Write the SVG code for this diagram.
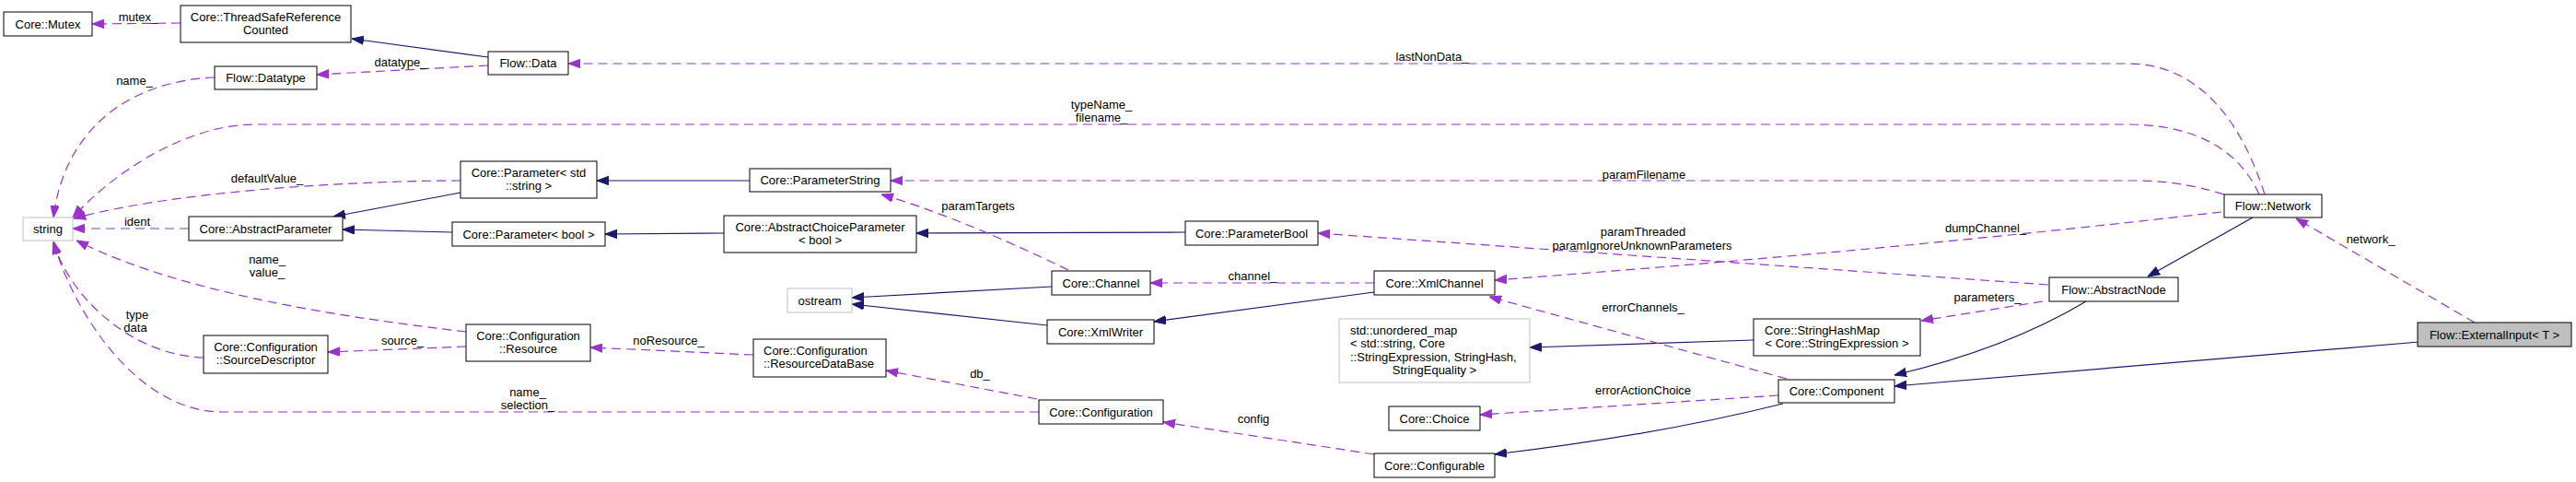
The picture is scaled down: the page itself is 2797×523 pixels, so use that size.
<svg xmlns="http://www.w3.org/2000/svg" width="2797" height="523" viewBox="0 0 2797 523">
<style>
text{font-family:"Liberation Sans",Arial,sans-serif;font-size:13px;fill:#000}
.n{fill:#fff;stroke:#000;stroke-width:1}
.g{fill:#fff;stroke:#bfbfbf;stroke-width:1}
.f{fill:#bfbfbf;stroke:#000;stroke-width:1}
.c{text-anchor:middle}
.s{fill:none;stroke:#191970;stroke-width:1.2;marker-end:url(#ab)}
.d{fill:none;stroke:#9a32cd;stroke-width:1.2;stroke-dasharray:10,6;marker-end:url(#ap)}
</style>
<defs>
<marker id="ab" viewBox="0 0 13 10" refX="13" refY="5" markerWidth="13" markerHeight="10" orient="auto" markerUnits="userSpaceOnUse"><path d="M0,0.3 L13,5 L0,9.7 z" fill="#191970" stroke="#191970" stroke-width="1"/></marker>
<marker id="ap" viewBox="0 0 13 10" refX="13" refY="5" markerWidth="13" markerHeight="10" orient="auto" markerUnits="userSpaceOnUse"><path d="M0,0.3 L13,5 L0,9.7 z" fill="#9a32cd" stroke="#9a32cd" stroke-width="1"/></marker>
</defs>
<rect width="2797" height="523" fill="#fff"/>
<g id="edges">
<path class="s" d="M530,62 L382,42"/>
<path class="s" d="M500,209 L362,235"/>
<path class="s" d="M491,252 L372,249"/>
<path class="s" d="M814,196 L648,196"/>
<path class="s" d="M786,253 L657,254"/>
<path class="s" d="M1287,252 L995,253"/>
<path class="s" d="M1142,311 L925,323"/>
<path class="s" d="M1137,353 L925,330"/>
<path class="s" d="M1492,317 L1253,349"/>
<path class="s" d="M1904,369 L1661,377"/>
<path class="s" d="M1936,438 Q1800,472 1623,493"/>
<path class="s" d="M2446,236 L2332,300"/>
<path class="s" d="M2265,327 Q2180,378 2057,407"/>
<path class="s" d="M2627,371 L2057,419"/>
<path class="d" d="M196,25 L100,26"/>
<path class="d" d="M530,71 L344,81"/>
<path class="d" d="M233,84 C140,88 70,140 58,236"/>
<path class="d" d="M2453,211 C2430,160 2380,135 2310,135 L277,135 C200,135 120,190 79,236"/>
<path class="d" d="M2459,211 C2430,120 2380,69 2310,69 L617,69"/>
<path class="d" d="M2415,211 C2380,200 2350,196 2319,196 L967,196"/>
<path class="d" d="M2412,230 Q2050,272 1623,304"/>
<path class="d" d="M2224,309 L1431,253"/>
<path class="d" d="M1160,293 Q1040,235 957,211"/>
<path class="d" d="M1492,307 L1249,307"/>
<path class="d" d="M1940,411 L1617,322"/>
<path class="d" d="M1931,429 L1607,450"/>
<path class="d" d="M2218,327 L2086,348"/>
<path class="d" d="M1492,493 L1263,458"/>
<path class="d" d="M1126,433 L962,402"/>
<path class="d" d="M1128,447 L241,447 C150,447 80,340 58,262"/>
<path class="d" d="M506,360 C380,345 200,320 83,261"/>
<path class="d" d="M221,388 C140,385 75,320 58,263"/>
<path class="d" d="M818,385 L641,377"/>
<path class="d" d="M506,376 L356,382"/>
<path class="d" d="M205,248 L79,248"/>
<path class="d" d="M500,196 C400,196 200,205 80,237"/>
<path class="d" d="M2687,350 L2493,237"/>
<text class="c" x="150" y="22.5">mutex_</text>
<text class="c" x="435" y="71.5">datatype_</text>
<text class="c" x="146" y="91.5">name_</text>
<text class="c" x="1555" y="65.5">lastNonData_</text>
<text class="c" x="1196" y="117.5">typeName_</text>
<text class="c" x="1196" y="131.5">filename_</text>
<text class="c" x="290" y="197.5">defaultValue_</text>
<text class="c" x="1785" y="193.5">paramFilename</text>
<text class="c" x="1062" y="227.5">paramTargets</text>
<text class="c" x="149" y="244.5">ident</text>
<text class="c" x="1784" y="255.5">paramThreaded</text>
<text class="c" x="1783" y="270.5">paramIgnoreUnknownParameters</text>
<text class="c" x="2156" y="251.5">dumpChannel_</text>
<text class="c" x="2574" y="263.5">network_</text>
<text class="c" x="290" y="285.5">name_</text>
<text class="c" x="290" y="299.5">value_</text>
<text class="c" x="1360" y="303.5">channel_</text>
<text class="c" x="1784" y="337.5">errorChannels_</text>
<text class="c" x="2158" y="326.5">parameters_</text>
<text class="c" x="149" y="345.5">type</text>
<text class="c" x="147" y="359.5">data</text>
<text class="c" x="437" y="373.5">source_</text>
<text class="c" x="726" y="373.5">noResource_</text>
<text class="c" x="1064" y="409.5">db_</text>
<text class="c" x="1784" y="427.5">errorActionChoice</text>
<text class="c" x="573" y="429.5">name_</text>
<text class="c" x="573" y="443.5">selection_</text>
<text class="c" x="1361" y="458.5">config</text>
</g>
<g id="n_mutex"><rect class="n" x="4" y="13" width="96" height="26"/><text class="c" x="52" y="30.5">Core::Mutex</text></g>
<g id="n_tsrc"><rect class="n" x="196" y="6" width="185" height="40"/><text class="c" x="288.5" y="22.5">Core::ThreadSafeReference</text><text class="c" x="288.5" y="37">Counted</text></g>
<g id="n_data"><rect class="n" x="530" y="56" width="87" height="25"/><text class="c" x="573.5" y="73">Flow::Data</text></g>
<g id="n_datatype"><rect class="n" x="233" y="72" width="111" height="25"/><text class="c" x="288.5" y="89">Flow::Datatype</text></g>
<g id="n_pstd"><rect class="n" x="500" y="175" width="148" height="40"/><text class="c" x="574" y="191.5">Core::Parameter&lt; std</text><text class="c" x="574" y="206">::string &gt;</text></g>
<g id="n_string"><rect class="g" x="25" y="236" width="54" height="25"/><text class="c" x="52" y="253">string</text></g>
<g id="n_absparam"><rect class="n" x="205" y="235" width="167" height="26"/><text class="c" x="288.5" y="252.5">Core::AbstractParameter</text></g>
<g id="n_pbool"><rect class="n" x="491" y="241" width="166" height="26"/><text class="c" x="574" y="258.5">Core::Parameter&lt; bool &gt;</text></g>
<g id="n_srcdesc"><rect class="n" x="221" y="364" width="135" height="41"/><text class="c" x="288.5" y="381">Core::Configuration</text><text class="c" x="288.5" y="395">::SourceDescriptor</text></g>
<g id="n_resource"><rect class="n" x="506" y="352" width="135" height="40"/><text class="c" x="573.5" y="369">Core::Configuration</text><text class="c" x="573.5" y="383">::Resource</text></g>
<g id="n_pstring"><rect class="n" x="814" y="183" width="153" height="25"/><text class="c" x="890.5" y="200">Core::ParameterString</text></g>
<g id="n_acp"><rect class="n" x="786" y="234" width="209" height="40"/><text class="c" x="890.5" y="250.5">Core::AbstractChoiceParameter</text><text class="c" x="890.5" y="265">&lt; bool &gt;</text></g>
<g id="n_pboolp"><rect class="n" x="1287" y="240" width="144" height="26"/><text class="c" x="1359" y="257.5">Core::ParameterBool</text></g>
<g id="n_channel"><rect class="n" x="1142" y="294" width="107" height="26"/><text class="c" x="1195.5" y="311.5">Core::Channel</text></g>
<g id="n_ostream"><rect class="g" x="855" y="313" width="70" height="26"/><text class="c" x="890" y="330.5">ostream</text></g>
<g id="n_xmlwriter"><rect class="n" x="1137" y="347" width="116" height="26"/><text class="c" x="1195" y="364.5">Core::XmlWriter</text></g>
<g id="n_rdb"><rect class="n" x="818" y="368" width="144" height="41"/><text x="829" y="385">Core::Configuration</text><text x="829" y="399">::ResourceDataBase</text></g>
<g id="n_config"><rect class="n" x="1128" y="434" width="135" height="26"/><text class="c" x="1195.5" y="451.5">Core::Configuration</text></g>
<g id="n_xmlchannel"><rect class="n" x="1492" y="294" width="131" height="26"/><text class="c" x="1557.5" y="311.5">Core::XmlChannel</text></g>
<g id="n_umap"><rect class="g" x="1454" y="346" width="207" height="69"/><text x="1466" y="362.5">std::unordered_map</text><text x="1466" y="377">&lt; std::string, Core</text><text x="1466" y="391.5">::StringExpression, StringHash,</text><text class="c" x="1557.5" y="406">StringEquality &gt;</text></g>
<g id="n_shm"><rect class="n" x="1904" y="346" width="181" height="40"/><text x="1916" y="362.5">Core::StringHashMap</text><text class="c" x="1994.5" y="377">&lt; Core::StringExpression &gt;</text></g>
<g id="n_component"><rect class="n" x="1931" y="412" width="126" height="25"/><text class="c" x="1994" y="429">Core::Component</text></g>
<g id="n_choice"><rect class="n" x="1508" y="441" width="99" height="26"/><text class="c" x="1557.5" y="458.5">Core::Choice</text></g>
<g id="n_configurable"><rect class="n" x="1492" y="492" width="131" height="26"/><text class="c" x="1557.5" y="509.5">Core::Configurable</text></g>
<g id="n_network"><rect class="n" x="2415" y="211" width="106" height="25"/><text class="c" x="2468" y="228">Flow::Network</text></g>
<g id="n_absnode"><rect class="n" x="2225" y="301" width="140" height="26"/><text class="c" x="2295" y="318.5">Flow::AbstractNode</text></g>
<g id="n_extinput"><rect class="f" x="2625" y="350" width="167" height="26"/><text class="c" x="2708.5" y="367.5">Flow::ExternalInput&lt; T &gt;</text></g>
</svg>
